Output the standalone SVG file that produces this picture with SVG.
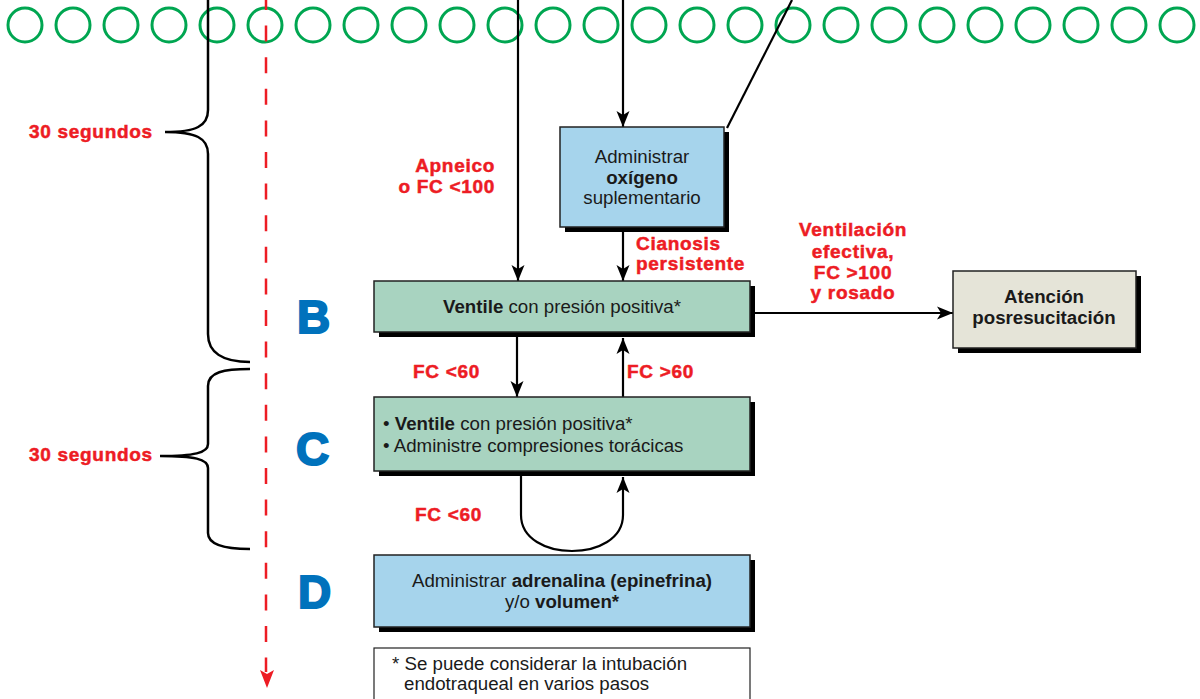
<svg xmlns="http://www.w3.org/2000/svg" width="1200" height="699" viewBox="0 0 1200 699">
<style>
.circ{fill:none;stroke:#00A651;stroke-width:3}
.box{stroke:#222;stroke-width:1.5}
.shadow{fill:#000}
.blue{fill:#A6D4EC}
.green{fill:#A8D3C0}
.beige{fill:#E5E4D8}
.t{font-family:"Liberation Sans",Arial,sans-serif;font-size:18.7px;fill:#1a1a1a}
.b{font-weight:bold}
.red{font-family:"Liberation Sans",Arial,sans-serif;font-size:19px;font-weight:bold;fill:#ED1C24;stroke:#ED1C24;stroke-width:0.5;letter-spacing:0.7px}
.letter{font-family:"Liberation Sans",Arial,sans-serif;font-size:46px;font-weight:bold;fill:#0072BC;stroke:#0072BC;stroke-width:2}
.line{fill:none;stroke:#000;stroke-width:2.2}
.brace{fill:none;stroke:#000;stroke-width:2.5}
</style>
<defs>
<marker id="ah" markerUnits="userSpaceOnUse" markerWidth="20" markerHeight="16" viewBox="-17 -8 18 16" refX="0" refY="0" orient="auto">
<path d="M0,0 L-16,-6.5 L-12,0 L-16,6.5 Z" fill="#000"/>
</marker>
</defs>
<g id="circles">
<circle class="circ" cx="25" cy="25" r="17"/><circle class="circ" cx="73" cy="25" r="17"/><circle class="circ" cx="121" cy="25" r="17"/><circle class="circ" cx="169" cy="25" r="17"/><circle class="circ" cx="217" cy="25" r="17"/><circle class="circ" cx="265" cy="25" r="17"/><circle class="circ" cx="313" cy="25" r="17"/><circle class="circ" cx="361" cy="25" r="17"/><circle class="circ" cx="409" cy="25" r="17"/><circle class="circ" cx="457" cy="25" r="17"/><circle class="circ" cx="505" cy="25" r="17"/><circle class="circ" cx="553" cy="25" r="17"/><circle class="circ" cx="601" cy="25" r="17"/><circle class="circ" cx="649" cy="25" r="17"/><circle class="circ" cx="697" cy="25" r="17"/><circle class="circ" cx="745" cy="25" r="17"/><circle class="circ" cx="793" cy="25" r="17"/><circle class="circ" cx="841" cy="25" r="17"/><circle class="circ" cx="889" cy="25" r="17"/><circle class="circ" cx="937" cy="25" r="17"/><circle class="circ" cx="985" cy="25" r="17"/><circle class="circ" cx="1033" cy="25" r="17"/><circle class="circ" cx="1081" cy="25" r="17"/><circle class="circ" cx="1129" cy="25" r="17"/><circle class="circ" cx="1177" cy="25" r="17"/>
</g>
<g id="timeline">
<path class="brace" d="M208,0 L208,110 C208,126 196,132 165,132 C196,132 208,138 208,154 L208,334 C208,352 222,362 250,362"/>
<path class="brace" d="M250,369 C224,369 208,372 208,386 L208,444 C208,453 194,456 160,456 C194,456 208,459 208,468 L208,533 C208,544 222,549 250,549"/>
<line x1="266" y1="0" x2="266" y2="672" stroke="#ED1C24" stroke-width="2.5" stroke-dasharray="16 15.6" stroke-dashoffset="6"/>
<path d="M267,688 L260,670 L267,674 L274,670 Z" fill="#ED1C24"/>
<text class="red" x="29" y="138">30 segundos</text>
<text class="red" x="29" y="461">30 segundos</text>
<text class="letter" x="297" y="333">B</text>
<text class="letter" x="296" y="465">C</text>
<text class="letter" x="298" y="608">D</text>
</g>
<g id="connectors">
<line class="line" x1="518" y1="0" x2="518" y2="281" marker-end="url(#ah)"/>
<line class="line" x1="623" y1="0" x2="623" y2="127" marker-end="url(#ah)"/>
<line class="line" x1="792" y1="0" x2="727" y2="128"/>
<line class="line" x1="623" y1="232" x2="623" y2="281" marker-end="url(#ah)"/>
<line class="line" x1="755" y1="313" x2="953" y2="313" marker-end="url(#ah)"/>
<line class="line" x1="517" y1="337" x2="517" y2="397" marker-end="url(#ah)"/>
<line class="line" x1="623" y1="397" x2="623" y2="338" marker-end="url(#ah)"/>
<path class="line" d="M521,476 L521,515 C521,563 623,563 623,515 L623,477" marker-end="url(#ah)"/>
<text class="red" x="495" y="172" text-anchor="end">Apneico</text>
<text class="red" x="495" y="193" text-anchor="end">o FC &lt;100</text>
<text class="red" x="636" y="250">Cianosis</text>
<text class="red" x="636" y="270">persistente</text>
<text class="red" x="853" y="236" text-anchor="middle">Ventilación</text>
<text class="red" x="853" y="258" text-anchor="middle">efectiva,</text>
<text class="red" x="853" y="279" text-anchor="middle">FC &gt;100</text>
<text class="red" x="853" y="299" text-anchor="middle">y rosado</text>
<text class="red" x="413" y="378">FC &lt;60</text>
<text class="red" x="627" y="378">FC &gt;60</text>
<text class="red" x="415" y="521">FC &lt;60</text>
</g>
<g id="oxigeno">
<rect class="shadow" x="565" y="132" width="164" height="100"/>
<rect class="box blue" x="560" y="127" width="164" height="100"/>
<text class="t" x="642" y="163" text-anchor="middle">Administrar</text>
<text class="t b" x="642" y="184" text-anchor="middle">oxígeno</text>
<text class="t" x="642" y="204" text-anchor="middle">suplementario</text>
</g>
<g id="ventile">
<rect class="shadow" x="379" y="286" width="376" height="51"/>
<rect class="box green" x="374" y="281" width="376" height="51"/>
<text class="t" x="562" y="313" text-anchor="middle"><tspan class="b">Ventile</tspan> con presión positiva*</text>
</g>
<g id="atencion">
<rect class="shadow" x="958" y="276" width="183" height="77"/>
<rect class="box beige" x="953" y="271" width="183" height="77"/>
<text class="t b" x="1044" y="303" text-anchor="middle">Atención</text>
<text class="t b" x="1044" y="324" text-anchor="middle">posresucitación</text>
</g>
<g id="compresiones">
<rect class="shadow" x="379" y="402" width="376" height="74"/>
<rect class="box green" x="374" y="397" width="376" height="74"/>
<text class="t" x="383" y="430">• <tspan class="b">Ventile</tspan> con presión positiva*</text>
<text class="t" x="383" y="452">• Administre compresiones torácicas</text>
</g>
<g id="adrenalina">
<rect class="shadow" x="379" y="560" width="376" height="72"/>
<rect class="box blue" x="374" y="555" width="376" height="72"/>
<text class="t" x="562" y="587" text-anchor="middle">Administrar <tspan class="b">adrenalina (epinefrina)</tspan></text>
<text class="t" x="562" y="608" text-anchor="middle">y/o <tspan class="b">volumen*</tspan></text>
</g>
<g id="nota">
<rect x="374" y="648" width="376" height="70" fill="#fff" stroke="#222" stroke-width="1.2"/>
<text class="t" x="392" y="670">* Se puede considerar la intubación</text>
<text class="t" x="404" y="690">endotraqueal en varios pasos</text>
</g>
</svg>
